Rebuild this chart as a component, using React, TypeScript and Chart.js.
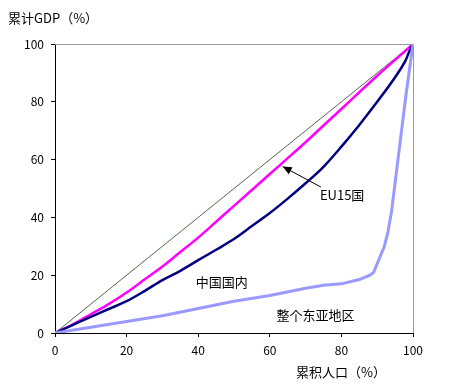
import React, { useEffect, useRef } from "react";
import { Chart, registerables } from "chart.js";

Chart.register(...registerables);

const euPop = [0, 5, 10, 15, 20, 25, 30, 35, 40, 45, 50, 55, 60, 65, 70, 75, 80, 85, 90, 95, 100];
const euGdp = [0, 3, 6.5, 10, 14, 18.5, 23, 28, 33, 38.5, 44, 49.5, 55, 60.5, 66, 71.8, 77.5, 83.3, 89, 94.5, 100];

const cnPop = [0, 5, 10, 15, 20, 25, 30, 35, 40, 45, 50, 55, 60, 65, 70, 75, 80, 85, 90, 95, 98, 99, 100];
const cnGdp = [0, 2.8, 5.6, 8.3, 11, 14.5, 18.3, 21.5, 25.2, 28.8, 32.5, 37, 41.5, 46.5, 51.8, 57.5, 64.5, 72, 80, 88.5, 94.5, 97.5, 100];

const eaPop = [0, 10, 20, 30, 40, 50, 60, 70, 75, 80, 85, 88, 89, 91, 92, 93, 94, 95, 96, 97, 98, 99, 100];
const eaGdp = [0, 2, 4, 6, 8.5, 11, 13, 15.5, 16.5, 17, 18.5, 20, 21, 27, 30, 35, 42, 52, 62, 72, 82, 91, 100];

const eqPop = [0, 100];
const eqGdp = [0, 100];

const ticks = [0, 20, 40, 60, 80, 100];

const yTitle = "累计GDP（%）";
const xTitle = "累积人口（%）";
const labelEU = "EU15国";
const labelCN = "中国国内";
const labelEA = "整个东亚地区";

const FONT = "'Noto Sans CJK JP', 'Noto Sans', sans-serif";

const toXY = (xs: number[], ys: number[]) => xs.map((x, i) => ({ x, y: ys[i] }));

export default function App() {
  const ref = useRef<HTMLCanvasElement | null>(null);
  useEffect(() => {
    document.body.style.margin = "0";
    const canvas = ref.current!;
    const annot = {
      id: "annot",
      afterDraw(chart: any) {
        const { ctx, chartArea, scales } = chart;
        const xs = scales.x;
        const ys = scales.y;
        ctx.save();
        ctx.strokeStyle = "#9a9a9a";
        ctx.lineWidth = 1;
        ctx.beginPath();
        ctx.moveTo(chartArea.left, chartArea.top + 0.5);
        ctx.lineTo(chartArea.right + 0.5, chartArea.top + 0.5);
        ctx.lineTo(chartArea.right + 0.5, chartArea.bottom);
        ctx.stroke();
        ctx.fillStyle = "#000";
        ctx.font = "13px " + FONT;
        ctx.textBaseline = "middle";
        ctx.textAlign = "left";
        ctx.fillText(yTitle, 8, 18);
        ctx.textAlign = "center";
        ctx.fillText(xTitle, 341, 372);
        ctx.textAlign = "center";
        ctx.fillText(labelEU, xs.getPixelForValue(80.2), ys.getPixelForValue(47.8));
        ctx.fillText(labelCN, xs.getPixelForValue(46.6), ys.getPixelForValue(17.6));
        ctx.fillText(labelEA, xs.getPixelForValue(72.8), ys.getPixelForValue(6.2));
        const x1 = xs.getPixelForValue(74.3), y1 = ys.getPixelForValue(50.5);
        const x2 = xs.getPixelForValue(63.6), y2 = ys.getPixelForValue(57.6);
        ctx.strokeStyle = "#000";
        ctx.lineWidth = 1;
        ctx.beginPath();
        ctx.moveTo(x1, y1);
        ctx.lineTo(x2, y2);
        ctx.stroke();
        const ang = Math.atan2(y2 - y1, x2 - x1);
        const L = 9, W = 4;
        ctx.beginPath();
        ctx.moveTo(x2, y2);
        ctx.lineTo(x2 - L * Math.cos(ang) + W * Math.sin(ang), y2 - L * Math.sin(ang) - W * Math.cos(ang));
        ctx.lineTo(x2 - L * Math.cos(ang) - W * Math.sin(ang), y2 - L * Math.sin(ang) + W * Math.cos(ang));
        ctx.closePath();
        ctx.fill();
        ctx.restore();
      },
    };
    const chart = new Chart(canvas, {
      type: "scatter",
      data: {
        datasets: [
          { data: toXY(eaPop, eaGdp), showLine: true, borderColor: "#9999ff", borderWidth: 3, pointRadius: 0, tension: 0 },
          { data: toXY(cnPop, cnGdp), showLine: true, borderColor: "#000080", borderWidth: 2.5, pointRadius: 0, cubicInterpolationMode: "monotone" },
          { data: toXY(euPop, euGdp), showLine: true, borderColor: "#ff00ff", borderWidth: 2.5, pointRadius: 0, cubicInterpolationMode: "monotone" },
          { data: toXY(eqPop, eqGdp), showLine: true, borderColor: "#556655", borderWidth: 1, pointRadius: 0 },
        ],
      },
      options: {
        animation: false,
        responsive: false,
        events: [],
        layout: { padding: { left: 0, top: 44, right: 37, bottom: 0 } },
        plugins: { legend: { display: false }, tooltip: { enabled: false }, title: { display: false } },
        scales: {
          x: {
            type: "linear",
            min: 0,
            max: 100,
            afterFit: (s: any) => { s.height = 59; },
            afterBuildTicks: (s: any) => { s.ticks = ticks.map((v) => ({ value: v })); },
            border: { display: true, color: "#000", width: 1 },
            grid: { display: true, drawOnChartArea: false, drawTicks: true, tickLength: 4, color: "#000" },
            ticks: { color: "#000", font: { family: FONT, size: 12 }, padding: 6, maxRotation: 0 },
          },
          y: {
            type: "linear",
            min: 0,
            max: 100,
            afterFit: (s: any) => { s.width = 55; },
            afterBuildTicks: (s: any) => { s.ticks = ticks.map((v) => ({ value: v })); },
            border: { display: true, color: "#000", width: 1 },
            grid: { display: true, drawOnChartArea: false, drawTicks: true, tickLength: 4, color: "#000" },
            ticks: { color: "#000", font: { family: FONT, size: 12 }, padding: 7 },
          },
        },
      },
      plugins: [annot],
    } as any);
    return () => chart.destroy();
  }, []);
  return (
    <div style={{ width: 450, height: 392, position: "relative", background: "#fff" }}>
      <canvas ref={ref} width={450} height={392} style={{ display: "block" }} />
    </div>
  );
}
